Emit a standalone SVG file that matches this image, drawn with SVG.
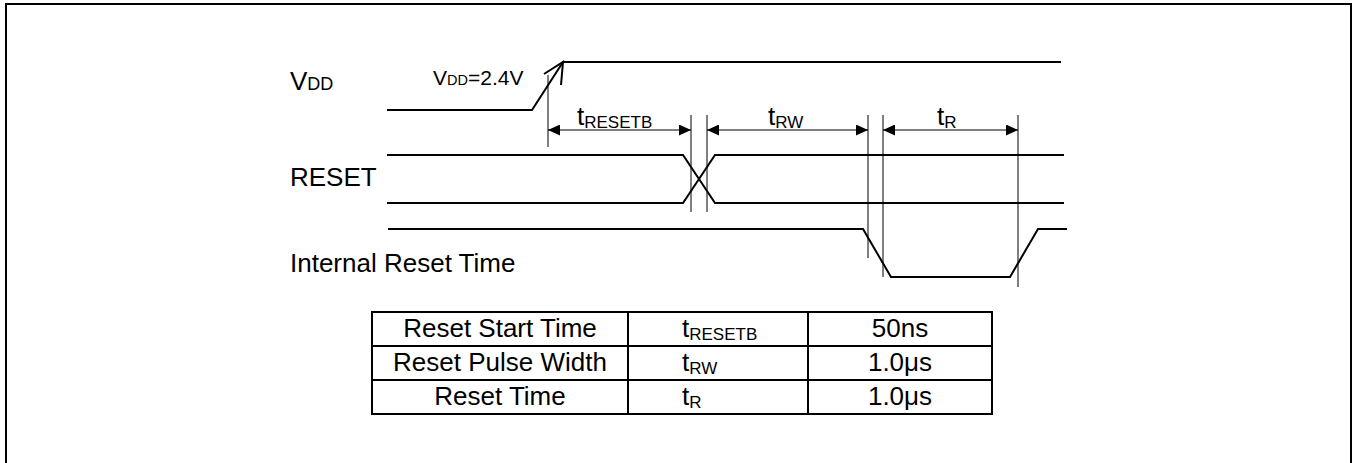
<svg xmlns="http://www.w3.org/2000/svg" width="1355" height="463" viewBox="0 0 1355 463">
<style>
text{font-family:"Liberation Sans",Arial,sans-serif;fill:#000}
.lbl{font-size:26px}
.sig{fill:none;stroke:#000;stroke-width:2}
.ref{fill:none;stroke:#000;stroke-width:1}
.dim{fill:none;stroke:#000;stroke-width:1;marker-start:url(#ah);marker-end:url(#ah)}
.tbl{fill:none;stroke:#000;stroke-width:2}
.cell{font-size:26px}
</style>
<defs>
<marker id="ah" viewBox="0 0 12 11" refX="12" refY="5.5" markerWidth="12" markerHeight="11" markerUnits="userSpaceOnUse" orient="auto-start-reverse">
<path d="M0,0 L12,5.5 L0,11 Z" fill="#000"/>
</marker>
</defs>
<rect x="6" y="4" width="1345" height="470" fill="none" stroke="#000" stroke-width="2"/>

<g id="vdd">
<text class="lbl" x="290" y="90">V<tspan font-size="18">DD</tspan></text>
<polyline class="sig" points="387,110 532,110 563,62 1061,62"/>
<polyline class="sig" points="544,74 563,62 561,85"/>
<text x="433" y="85" font-size="21">V<tspan font-size="14.5">DD</tspan>=2.4V</text>
</g>

<g id="reset">
<text class="lbl" x="290" y="186">RESET</text>
<polyline class="sig" points="387,155 683,155 715,203 1064,203"/>
<polyline class="sig" points="387,203 683,203 715,155 1064,155"/>
</g>

<g id="internal">
<text class="lbl" x="290" y="272">Internal Reset Time</text>
<polyline class="sig" points="388,229 863,229 891,277 1010,277 1038,229 1067,229"/>
</g>

<g id="connectors">
<line class="ref" x1="548" y1="75" x2="548" y2="147"/>
<line class="ref" x1="691" y1="115" x2="691" y2="212"/>
<line class="ref" x1="707" y1="115" x2="707" y2="212"/>
<line class="ref" x1="868" y1="115" x2="868" y2="258"/>
<line class="ref" x1="883" y1="115" x2="883" y2="277"/>
<line class="ref" x1="1018" y1="115" x2="1018" y2="287"/>
<line class="dim" x1="548" y1="130" x2="691" y2="130"/>
<line class="dim" x1="707" y1="130" x2="868" y2="130"/>
<line class="dim" x1="883" y1="130" x2="1018" y2="130"/>
</g>

<g id="labels">
<text class="lbl" x="577" y="125">t<tspan font-size="17" dy="3">RESETB</tspan></text>
<text class="lbl" x="768" y="125">t<tspan font-size="17" dy="3">RW</tspan></text>
<text class="lbl" x="937" y="125">t<tspan font-size="17" dy="3">R</tspan></text>
</g>

<g id="table">
<rect class="tbl" x="372" y="312" width="620" height="102"/>
<line class="tbl" x1="372" y1="346" x2="992" y2="346"/>
<line class="tbl" x1="372" y1="380" x2="992" y2="380"/>
<line class="tbl" x1="628" y1="312" x2="628" y2="414"/>
<line class="tbl" x1="808" y1="312" x2="808" y2="414"/>
<text class="cell" x="500" y="337" text-anchor="middle">Reset Start Time</text>
<text class="cell" x="500" y="371" text-anchor="middle">Reset Pulse Width</text>
<text class="cell" x="500" y="405" text-anchor="middle">Reset Time</text>
<text class="cell" x="682" y="337">t<tspan font-size="17" dy="3">RESETB</tspan></text>
<text class="cell" x="682" y="371">t<tspan font-size="17" dy="3">RW</tspan></text>
<text class="cell" x="682" y="405">t<tspan font-size="17" dy="3">R</tspan></text>
<text class="cell" x="900" y="337" text-anchor="middle">50ns</text>
<text class="cell" x="900" y="371" text-anchor="middle">1.0μs</text>
<text class="cell" x="900" y="405" text-anchor="middle">1.0μs</text>
</g>
</svg>
